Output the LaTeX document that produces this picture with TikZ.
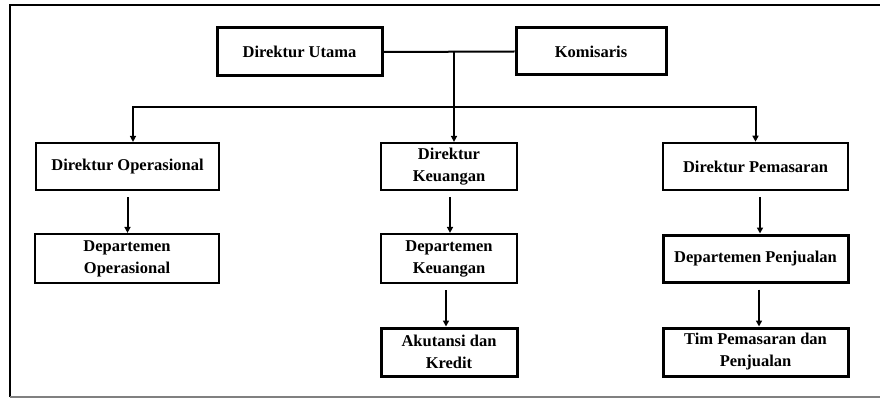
\documentclass[tikz,border=0pt]{standalone}
\usepackage{fontspec}
\setmainfont{Liberation Serif}
\usetikzlibrary{arrows.meta}
\begin{document}
\begin{tikzpicture}[x=1pt,y=-1pt,
  box/.style={draw,line width=2.2pt,rectangle,inner sep=0pt,align=center,
    font=\fontsize{16.5}{22}\selectfont\bfseries},
  heavy/.style={line width=3pt},
  conn/.style={line width=2pt},
  arr/.style={conn,-{Triangle[width=6pt,length=6pt]},shorten <=6pt}]
\useasboundingbox (0,0) rectangle (880,398);
% frame
\draw[line width=1.5pt] (10,397) -- (10,5) -- (880,5);
\draw[line width=1.5pt,gray] (10,397) -- (880,397);
% nodes
\node[box,heavy,minimum width=165,minimum height=48] (DU) at (299.5,52) {Direktur Utama};
\node[box,heavy,minimum width=150,minimum height=47] (K) at (591,51.5) {Komisaris};
\node[box,minimum width=183,minimum height=47] (DO) at (127.5,166.5) {Direktur Operasional};
\node[box,minimum width=136,minimum height=47] (DK) at (449,166.5) {Direktur\\Keuangan};
\node[box,line width=2.6pt,minimum width=185,minimum height=47] (DP) at (755.5,166.5) {Direktur Pemasaran};
\node[box,minimum width=184,minimum height=49] (DepO) at (127,258.5) {Departemen\\Operasional};
\node[box,minimum width=136,minimum height=49] (DepK) at (449,258.5) {Departemen\\Keuangan};
\node[box,heavy,minimum width=185,minimum height=47] (DepP) at (755.5,258.5) {Departemen Penjualan};
\node[box,heavy,minimum width=136,minimum height=48] (AK) at (449,352) {Akutansi dan\\Kredit};
\node[box,heavy,minimum width=185,minimum height=48] (TIM) at (755.5,352) {Tim Pemasaran dan\\Penjualan};
% connectors
\coordinate (jt) at (454,51);
\coordinate (jb) at (454,107);
\draw[conn] (DU.east) -- (K.west);
\draw[conn] (jt) -- (jb);
\draw[conn,-{Triangle[width=6pt,length=6pt]}] (jb) -| ([xshift=5.5]DO.north);
\draw[conn,-{Triangle[width=6pt,length=6pt]}] (jb) -- (DK.north -| jb);
\draw[conn,-{Triangle[width=6pt,length=6pt]}] (jb) -| (DP.north);
\draw[arr] (DO.south) -- (DepO.north -| DO.south);
\draw[arr] ([xshift=1]DK.south) -- ([xshift=1]DepK.north);
\draw[arr] ([xshift=-3]DepK.south) -- ([xshift=-3]AK.north);
\draw[arr] ([xshift=4.5]DP.south) -- ([xshift=4.5]DepP.north);
\draw[arr] ([xshift=3.5]DepP.south) -- ([xshift=3.5]TIM.north);
\end{tikzpicture}
\end{document}
